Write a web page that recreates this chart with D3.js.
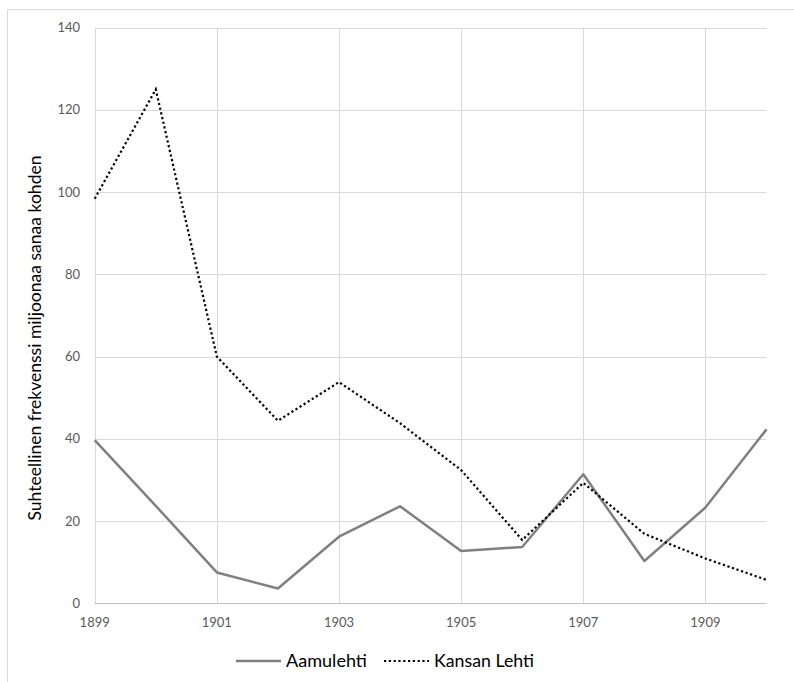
<!DOCTYPE html>
<html><head><meta charset="utf-8">
<script src="https://cdn.jsdelivr.net/npm/d3@7"></script>
<style>body{margin:0;background:#fff}svg{display:block}</style>
</head><body>
<script>
const years = [1899,1900,1901,1902,1903,1904,1905,1906,1907,1908,1909,1910];
const aamulehti = [39.7,23.7,7.5,3.6,16.2,23.6,12.7,13.7,31.4,10.3,23.3,42.3];
const kansanLehti = [98.4,125,60.0,44.4,53.8,43.8,32.4,15.4,29.3,16.9,10.9,5.7];
const xTicks = [1899,1901,1903,1905,1907,1909];
const yTicks = [0,20,40,60,80,100,120,140];
const seriesNames = ["Aamulehti","Kansan Lehti"];
const yTitle = "Suhteellinen frekvenssi miljoonaa sanaa kohden";

const W=794,H=682;
const svg=d3.select("body").append("svg").attr("width",W).attr("height",H);
// outer border
svg.append("path").attr("d","M7.5,682 V9.5 H794").attr("fill","none").attr("stroke","#d9d9d9").attr("stroke-width",1);

const x=d3.scaleLinear().domain([1899,1910]).range([94.7,766.5]);
const y=d3.scaleLinear().domain([0,140]).range([603.3,27.7]);

const g=svg.append("g");
// horizontal gridlines
g.selectAll(".hg").data(yTicks.filter(d=>d>0)).join("line")
 .attr("x1",x(1899)).attr("x2",x(1910)).attr("y1",d=>Math.round(y(d))+0.5).attr("y2",d=>Math.round(y(d))+0.5)
 .attr("stroke","#d9d9d9").attr("stroke-width",1);
// vertical gridlines
g.selectAll(".vg").data(xTicks).join("line")
 .attr("x1",d=>Math.round(x(d))+0.5).attr("x2",d=>Math.round(x(d))+0.5).attr("y1",y(140)).attr("y2",y(0))
 .attr("stroke","#d9d9d9").attr("stroke-width",1);
// x axis line
g.append("line").attr("x1",x(1899)).attr("x2",x(1910)).attr("y1",Math.round(y(0))+0.5).attr("y2",Math.round(y(0))+0.5)
 .attr("stroke","#bfbfbf").attr("stroke-width",1);

// tick labels
const tickFont="Lato, 'Open Sans', sans-serif";
g.selectAll(".yl").data(yTicks).join("text")
 .attr("x",80).attr("y",d=>y(d)).attr("dy","0.35em").attr("text-anchor","end")
 .attr("font-family",tickFont).attr("font-size",13).attr("fill","#595959").text(d=>d);
g.selectAll(".xl").data(xTicks).join("text")
 .attr("x",d=>x(d)).attr("y",627).attr("text-anchor","middle")
 .attr("font-family",tickFont).attr("font-size",13).attr("fill","#595959").text(d=>d);

// axis title
svg.append("text").attr("transform","translate(41,338) rotate(-90)").attr("text-anchor","middle")
 .attr("font-family","Lato, sans-serif").attr("font-size",16.5).attr("fill","#000")
 .attr("textLength",365).attr("lengthAdjust","spacingAndGlyphs").text(yTitle);

const line=d3.line().x((d,i)=>x(years[i])).y(d=>y(d));
svg.append("path").datum(aamulehti).attr("d",line).attr("fill","none")
 .attr("stroke","#808080").attr("stroke-width",2.5).attr("stroke-linejoin","round");
svg.append("path").datum(kansanLehti).attr("d",line).attr("fill","none")
 .attr("stroke","#000").attr("stroke-width",2.2).attr("stroke-dasharray","2.2,2.6");

// legend
const ly=661;
svg.append("line").attr("x1",236).attr("x2",281).attr("y1",ly).attr("y2",ly).attr("stroke","#808080").attr("stroke-width",2.5);
svg.append("text").attr("x",286).attr("y",ly+6).attr("font-family","Lato, sans-serif").attr("font-size",17)
 .attr("textLength",81).attr("lengthAdjust","spacingAndGlyphs").text(seriesNames[0]);
svg.append("line").attr("x1",384).attr("x2",429).attr("y1",ly).attr("y2",ly).attr("stroke","#000").attr("stroke-width",2.2).attr("stroke-dasharray","2.2,2.6");
svg.append("text").attr("x",434).attr("y",ly+6).attr("font-family","Lato, sans-serif").attr("font-size",17)
 .attr("textLength",100).attr("lengthAdjust","spacingAndGlyphs").text(seriesNames[1]);
</script>
</body></html>
